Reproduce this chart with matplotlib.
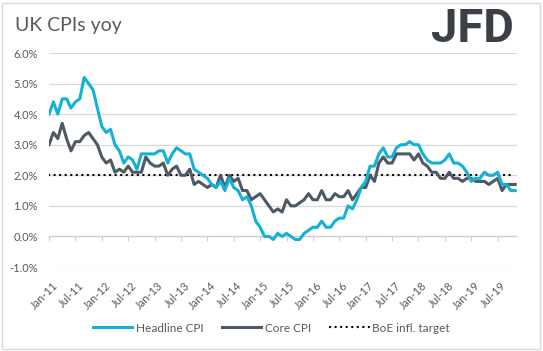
import matplotlib
matplotlib.use("Agg")
import matplotlib.pyplot as plt
import matplotlib.transforms as mtransforms
from matplotlib.patches import Rectangle
import numpy as np

# ---- data (monthly, Jan-11 .. Nov-19) ----
headline = [
    4.0, 4.4, 4.0, 4.5, 4.5, 4.2, 4.4, 4.5, 5.2, 5.0, 4.8, 4.2,   # 2011
    3.6, 3.4, 3.5, 3.0, 2.8, 2.4, 2.6, 2.5, 2.2, 2.7, 2.7, 2.7,   # 2012
    2.7, 2.8, 2.8, 2.4, 2.7, 2.9, 2.8, 2.7, 2.7, 2.2, 2.1, 2.0,   # 2013
    1.9, 1.7, 1.6, 1.8, 1.5, 1.9, 1.6, 1.5, 1.2, 1.3, 1.0, 0.5,   # 2014
    0.3, 0.0, 0.0, -0.1, 0.1, 0.0, 0.1, 0.0, -0.1, -0.1, 0.1, 0.2,  # 2015
    0.3, 0.3, 0.5, 0.3, 0.3, 0.5, 0.6, 0.6, 1.0, 0.9, 1.2, 1.6,   # 2016
    1.8, 2.3, 2.3, 2.7, 2.9, 2.6, 2.6, 2.9, 3.0, 3.0, 3.1, 3.0,   # 2017
    3.0, 2.7, 2.5, 2.4, 2.4, 2.4, 2.5, 2.7, 2.4, 2.4, 2.3, 2.1,   # 2018
    1.8, 1.9, 1.9, 2.1, 2.0, 2.0, 2.1, 1.7, 1.7, 1.5, 1.5,        # 2019
]
core = [
    3.0, 3.4, 3.2, 3.7, 3.2, 2.8, 3.1, 3.1, 3.3, 3.4, 3.2, 3.0,
    2.6, 2.4, 2.5, 2.1, 2.2, 2.1, 2.3, 2.1, 2.1, 2.1, 2.6, 2.4,
    2.3, 2.3, 2.4, 2.0, 2.2, 2.3, 2.0, 2.0, 2.2, 1.7, 1.8, 1.7,
    1.6, 1.7, 1.6, 2.0, 1.6, 2.0, 1.8, 1.9, 1.5, 1.5, 1.2, 1.3,
    1.4, 1.2, 1.0, 0.8, 0.9, 0.8, 1.2, 1.0, 1.0, 1.1, 1.2, 1.4,
    1.2, 1.2, 1.5, 1.2, 1.2, 1.4, 1.3, 1.3, 1.5, 1.2, 1.4, 1.6,
    1.6, 2.0, 1.8, 2.4, 2.6, 2.4, 2.4, 2.7, 2.7, 2.7, 2.7, 2.5,
    2.7, 2.4, 2.3, 2.1, 2.1, 1.9, 1.9, 2.1, 1.9, 1.9, 1.8, 1.9,
    1.9, 1.8, 1.8, 1.8, 1.7, 1.8, 1.9, 1.5, 1.7, 1.7, 1.7,
]
boe_target = 2.0
tick_labels = ["Jan-11", "Jul-11", "Jan-12", "Jul-12", "Jan-13", "Jul-13",
               "Jan-14", "Jul-14", "Jan-15", "Jul-15", "Jan-16", "Jul-16",
               "Jan-17", "Jul-17", "Jan-18", "Jul-18", "Jan-19", "Jul-19"]
y_ticks = [-1, 0, 1, 2, 3, 4, 5, 6]

months = np.arange(len(headline))
target = [boe_target] * len(headline)

plt.rcParams['font.family'] = ['Lato', 'DejaVu Sans']
txt_col = "#595959"
grid_col = "#d9d9d9"

fig = plt.figure(figsize=(5.43, 3.51), dpi=100)
ax = fig.add_axes([49/543, 1-267/351, (517-49)/543, (267-53)/351])

ax.plot(months, target, color="black", lw=1.7, linestyle=(0, (0.05, 2.3)),
        dash_capstyle="round", label="BoE infl. target", zorder=2)
ax.plot(months, core, color="#4f5964", lw=2.2, label="Core CPI", zorder=3)
ax.plot(months, headline, color="#14b1d7", lw=2.2, label="Headline CPI", zorder=4)

ax.set_ylim(-1, 6)
ax.set_xlim(0, len(headline) - 0.6)
ax.set_yticks(y_ticks)
ax.set_yticklabels([f"{v:.1f}%" for v in y_ticks])
ax.yaxis.grid(True, color=grid_col, lw=0.9)
ax.set_axisbelow(True)

for s in ["top", "right", "left"]:
    ax.spines[s].set_visible(False)
ax.spines["bottom"].set_position(("data", 0))
ax.spines["bottom"].set_color("#cfcfcf")
ax.spines["bottom"].set_linewidth(0.9)

ax.set_xticks(np.arange(0, len(headline), 6)[:len(tick_labels)])
ax.set_xticklabels(tick_labels)
ax.tick_params(axis="x", length=3.5, color="#cfcfcf", width=0.8,
               pad=28, labelsize=8, labelcolor=txt_col)
ax.tick_params(axis="y", length=0, pad=8, labelsize=8, labelcolor=txt_col)
offset = mtransforms.ScaledTranslation(3/100, 0, fig.dpi_scale_trans)
for lab in ax.get_xticklabels():
    lab.set_rotation(45)
    lab.set_ha("right")
    lab.set_va("top")
    lab.set_rotation_mode("anchor")
    lab.set_transform(lab.get_transform() + offset)

h, l = ax.get_legend_handles_labels()
order = [2, 1, 0]
leg = fig.legend([h[i] for i in order], [l[i] for i in order],
                 loc="center", bbox_to_anchor=(0.5, 1-328/351), ncol=3,
                 frameon=False, fontsize=8.5, handlelength=3.3,
                 handletextpad=0.3, columnspacing=1.6, labelcolor=txt_col)

fig.text(15/543, 1-26/351, "UK CPIs yoy", fontsize=14, color=txt_col,
         va="center", ha="left")
fig.text(472/543, 1-29/351, "JFD", fontsize=34, color="#3a4046",
         fontweight="bold", va="center", ha="center",
         family=["Roboto", "DejaVu Sans"])

fig.patches.append(Rectangle((2/543, 2/351), 538/543, 346/351,
                             transform=fig.transFigure, fill=False,
                             edgecolor=grid_col, lw=1))

fig.savefig("out.png", dpi=100)
